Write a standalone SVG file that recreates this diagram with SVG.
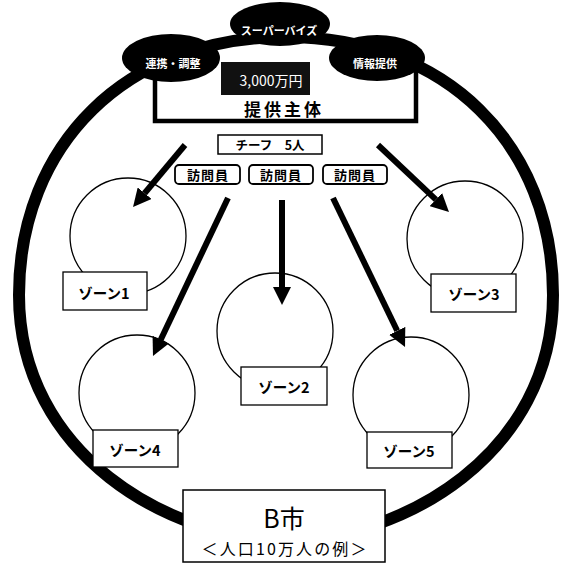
<svg xmlns="http://www.w3.org/2000/svg" width="565" height="565" viewBox="0 0 565 565">
<style>
text{font-family:"Noto Sans CJK JP","Noto Sans",sans-serif;fill:#000;text-anchor:middle}
.wt{fill:#fff;font-weight:bold;font-size:11px}
.zone{fill:none;stroke:#000;stroke-width:1.3}
.lbl{fill:#fff;stroke:#000;stroke-width:1.3}
.lt{font-size:14.5px;font-weight:bold}
.vb{fill:#fff;stroke:#000;stroke-width:1.8}
.vt{font-size:13px;font-weight:bold;letter-spacing:1px}
.arr{stroke:#000;stroke-width:6;fill:none;marker-end:url(#ah)}
</style>
<defs>
<marker id="ah" viewBox="0 0 10 10" refX="0" refY="5" markerWidth="3" markerHeight="3" orient="auto" markerUnits="strokeWidth">
<path d="M0,0 L10,5 L0,10 z" fill="#000"/>
</marker>
</defs>
<rect width="565" height="565" fill="#fff"/>
<g id="city-boundary">
<path d="M286,37 C446,37 553,145 553,295 C553,455 401,540 286,540 C171,540 19,455 19,295 C19,145 126,37 286,37 Z" fill="none" stroke="#000" stroke-width="12"/>
</g>
<g id="provider">
<rect x="155" y="58" width="261" height="63" fill="#fff"/>
<path d="M155,58 V121 H416 V58" fill="none" stroke="#000" stroke-width="4.5"/>
<rect x="221" y="62" width="89" height="33" fill="#111"/>
<text x="271" y="86" style="fill:#fff;font-size:14px">3,000万円</text>
<text x="284" y="116" style="font-size:17px;font-weight:bold;letter-spacing:3px">提供主体</text>
</g>
<g id="supervise">
<ellipse cx="280" cy="24" rx="50" ry="22" fill="#000"/>
<text x="279" y="35" class="wt">スーパーバイズ</text>
</g>
<g id="coordination">
<ellipse cx="171" cy="58" rx="49" ry="24" fill="#000"/>
<text x="173" y="68" class="wt">連携・調整</text>
</g>
<g id="info">
<ellipse cx="377" cy="58" rx="48" ry="23" fill="#000"/>
<text x="375" y="68" class="wt">情報提供</text>
</g>
<g id="chief">
<rect x="218" y="135" width="104" height="19" fill="#fff" stroke="#000" stroke-width="1.5"/>
<text x="270" y="150" style="font-size:12.5px;font-weight:bold">チーフ　5人</text>
</g>
<g id="visitor1">
<rect x="175" y="165" width="65" height="19" rx="4" class="vb"/>
<text x="208" y="180" class="vt">訪問員</text>
</g>
<g id="visitor2">
<rect x="249" y="165" width="64" height="19" rx="4" class="vb"/>
<text x="281" y="180" class="vt">訪問員</text>
</g>
<g id="visitor3">
<rect x="323" y="165" width="64" height="19" rx="4" class="vb"/>
<text x="355" y="180" class="vt">訪問員</text>
</g>
<g id="zone1">
<circle cx="128" cy="236" r="58" class="zone"/>
<rect x="63" y="272" width="84" height="38" class="lbl"/>
<text x="104" y="299" class="lt">ゾーン1</text>
</g>
<g id="zone2">
<circle cx="275" cy="331" r="58" class="zone"/>
<rect x="241" y="367" width="86" height="38" class="lbl"/>
<text x="284" y="393" class="lt">ゾーン2</text>
</g>
<g id="zone3">
<circle cx="465" cy="239" r="58" class="zone"/>
<rect x="431" y="274" width="85" height="38" class="lbl"/>
<text x="474" y="300" class="lt">ゾーン3</text>
</g>
<g id="zone4">
<circle cx="137" cy="393" r="58" class="zone"/>
<rect x="93" y="430" width="85" height="37" class="lbl"/>
<text x="135" y="456" class="lt">ゾーン4</text>
</g>
<g id="zone5">
<circle cx="411" cy="395" r="58" class="zone"/>
<rect x="367" y="432" width="85" height="36" class="lbl"/>
<text x="409" y="457" class="lt">ゾーン5</text>
</g>
<g id="connectors">
<line x1="185" y1="145" x2="144.6" y2="193.2" class="arr"/>
<line x1="228" y1="198" x2="160.7" y2="339.7" class="arr"/>
<line x1="282" y1="200" x2="282" y2="287" class="arr"/>
<line x1="333" y1="198" x2="397.2" y2="330.8" class="arr"/>
<line x1="378" y1="145" x2="435.9" y2="199.6" class="arr"/>
</g>
<g id="city">
<rect x="183" y="490" width="202" height="72" fill="#fff" stroke="#000" stroke-width="1.5"/>
<text x="284" y="528" style="font-size:25px">B市</text>
<text x="284" y="555" style="font-size:16px" textLength="165" lengthAdjust="spacing">＜人口10万人の例＞</text>
</g>
</svg>
